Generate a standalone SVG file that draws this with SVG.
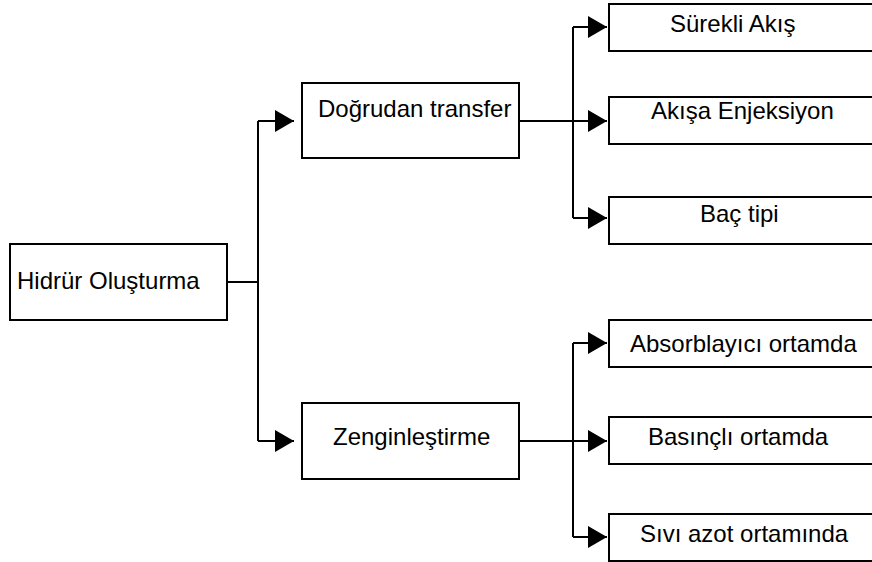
<svg xmlns="http://www.w3.org/2000/svg" width="872" height="562" viewBox="0 0 872 562">
<style>
.box{fill:#fff;stroke:#000;stroke-width:2}
.lbl{font-family:"Liberation Sans",Arial,sans-serif;font-size:24px;fill:#000}
.ln{fill:none;stroke:#000;stroke-width:2}
</style>
<defs>
<marker id="ah" markerUnits="userSpaceOnUse" markerWidth="20" markerHeight="22" refX="19" refY="11" orient="auto">
<path d="M0,0 L19,11 L0,22 Z" fill="#000"/>
</marker>
</defs>
<rect width="872" height="562" fill="#fff"/>
<g id="connectors">
<path class="ln" d="M227,282 H258"/>
<path class="ln" d="M258,121 V441"/>
<path class="ln" d="M258,121 H294" marker-end="url(#ah)"/>
<path class="ln" d="M258,441 H294" marker-end="url(#ah)"/>
<path class="ln" d="M519,121 H607" marker-end="url(#ah)"/>
<path class="ln" d="M573,27 V218"/>
<path class="ln" d="M573,27 H607" marker-end="url(#ah)"/>
<path class="ln" d="M573,218 H607" marker-end="url(#ah)"/>
<path class="ln" d="M519,441 H607" marker-end="url(#ah)"/>
<path class="ln" d="M573,343 V537"/>
<path class="ln" d="M573,343 H607" marker-end="url(#ah)"/>
<path class="ln" d="M573,537 H607" marker-end="url(#ah)"/>
</g>
<g id="hidrur"><rect class="box" x="10" y="244" width="217" height="76"/><text class="lbl" x="17" y="289">Hidrür Oluşturma</text></g>
<g id="dogrudan"><rect class="box" x="302" y="83" width="217" height="75"/><text class="lbl" x="318" y="117">Doğrudan transfer</text></g>
<g id="zengin"><rect class="box" x="302" y="403" width="217" height="76"/><text class="lbl" x="333" y="445">Zenginleştirme</text></g>
<g id="surekli"><rect class="box" x="609" y="4" width="280" height="47"/><text class="lbl" x="670" y="32">Sürekli Akış</text></g>
<g id="akisa"><rect class="box" x="609" y="97" width="280" height="47"/><text class="lbl" x="651" y="119">Akışa Enjeksiyon</text></g>
<g id="bac"><rect class="box" x="609" y="197" width="280" height="47"/><text class="lbl" x="700" y="222">Baç tipi</text></g>
<g id="absorb"><rect class="box" x="609" y="320" width="280" height="47"/><text class="lbl" x="630" y="352">Absorblayıcı ortamda</text></g>
<g id="basincli"><rect class="box" x="609" y="417" width="280" height="47"/><text class="lbl" x="648" y="445">Basınçlı ortamda</text></g>
<g id="sivi"><rect class="box" x="609" y="514" width="280" height="47"/><text class="lbl" x="640" y="542">Sıvı azot ortamında</text></g>
</svg>
